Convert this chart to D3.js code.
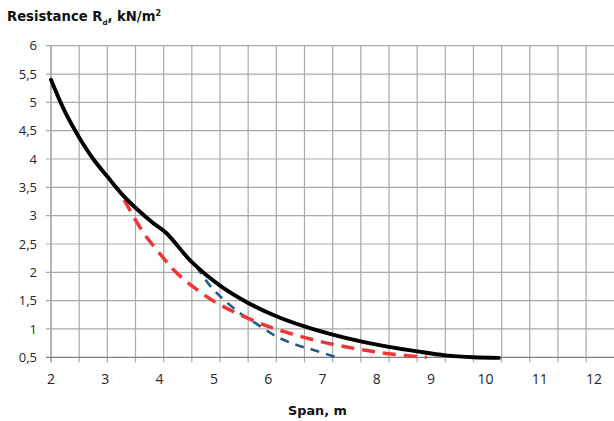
<!DOCTYPE html>
<html><head><meta charset="utf-8">
<script src="https://cdn.jsdelivr.net/npm/d3@7"></script>
<style>body{margin:0;background:#fff}svg{display:block}</style>
</head><body><svg id="c" width="614" height="421"></svg>
<script>
const xTicks = [2,3,4,5,6,7,8,9,10,11,12];
const yTicks = [0.5,1,1.5,2,2.5,3,3.5,4,4.5,5,5.5,6];
const blackX = [2,2.25,2.5,2.75,3,3.25,3.5,3.8,4.05,4.5,5,5.5,6,6.5,7,7.5,8,8.5,9,9.5,9.95];
const blackY = [5.4,4.83,4.38,4.0,3.69,3.39,3.14,2.88,2.69,2.18,1.765,1.46,1.225,1.045,0.9,0.78,0.685,0.605,0.535,0.5,0.49];
const redX = [3.3,3.64,3.94,4.2,4.55,4.95,5.4,5.83,6.2,6.62,7.1,7.58,8.08,8.67];
const redY = [3.28,2.7,2.32,2.02,1.725,1.455,1.23,1.055,0.935,0.818,0.71,0.625,0.553,0.5];
const blueX = [4.58,4.85,5.1,5.38,5.65,6.0,6.35,6.66,7.07];
const blueY = [2.1,1.73,1.49,1.26,1.09,0.87,0.72,0.63,0.5];

const svg = d3.select('#c');
const x = d3.scaleLinear().domain([2,12]).range([51,614.3]);
const xLab = d3.scaleLinear().domain([2,12]).range([51,594]);
const y = d3.scaleLinear().domain([0.5,6]).range([357.3,45.7]);
const fmt = d => String(d).replace('.', ',');

const grid = svg.append('g');
const vLines = d3.range(2,12,0.5);
grid.selectAll('line.v').data(vLines).join('line')
  .attr('x1', d=>x(d)).attr('x2', d=>x(d))
  .attr('y1', y(6)).attr('y2', y(0.5)+5)
  .attr('stroke', d=> d===2 ? '#808080' : '#a9a9a9').attr('stroke-width', 1.2);
grid.selectAll('line.h').data(yTicks).join('line')
  .attr('x1', 46).attr('x2', 614)
  .attr('y1', d=>y(d)).attr('y2', d=>y(d))
  .attr('stroke', d=> d===0.5 ? '#808080' : '#a9a9a9').attr('stroke-width', 1.2);

svg.append('g').selectAll('text').data(yTicks).join('text')
  .attr('x', 37).attr('y', d=>y(d)).attr('dy','0.35em')
  .attr('text-anchor','end')
  .attr('font-family','"Open Sans", sans-serif').attr('font-size', 13)
  .attr('fill','#262626').text(fmt);

svg.append('g').selectAll('text').data(xTicks).join('text')
  .attr('x', d=>xLab(d)).attr('y', 383.5)
  .attr('text-anchor','middle')
  .attr('font-family','"Open Sans", sans-serif').attr('font-size', 14)
  .attr('fill','#262626').text(d=>d);

const line = d3.line().x(d=>x(d[0])).y(d=>y(d[1])).curve(d3.curveCatmullRom.alpha(0.5));
const pts = (a,b) => a.map((v,i)=>[v,b[i]]);

svg.append('path').attr('d', line(pts(blueX,blueY)))
  .attr('fill','none').attr('stroke','#1f5b8e').attr('stroke-width',2.6)
  .attr('stroke-dasharray','9,7');
svg.append('path').attr('d', line(pts(redX,redY)))
  .attr('fill','none').attr('stroke','#f03535').attr('stroke-width',3.5)
  .attr('stroke-dasharray','13,8');
svg.append('path').attr('d', line(pts(blackX,blackY)))
  .attr('fill','none').attr('stroke','#000').attr('stroke-width',3.9)
  .attr('stroke-linecap','round').attr('stroke-linejoin','round');

const title = svg.append('text').attr('x',7).attr('y',21)
  .attr('font-family','"DejaVu Sans", sans-serif').attr('font-weight','bold')
  .attr('font-size',13.2).attr('fill','#111');
title.append('tspan').text('Resistance R');
title.append('tspan').attr('font-size',7).attr('dy',3.5).text('d');
title.append('tspan').attr('dy',-3.5).text(', kN/m');
title.append('tspan').attr('font-size',8).attr('dy',-5.5).text('2');

svg.append('text').attr('x',317.5).attr('y',415).attr('text-anchor','middle')
  .attr('font-family','"DejaVu Sans", sans-serif').attr('font-weight','bold')
  .attr('font-size',12.8).attr('fill','#111').text('Span, m');
</script></body></html>
